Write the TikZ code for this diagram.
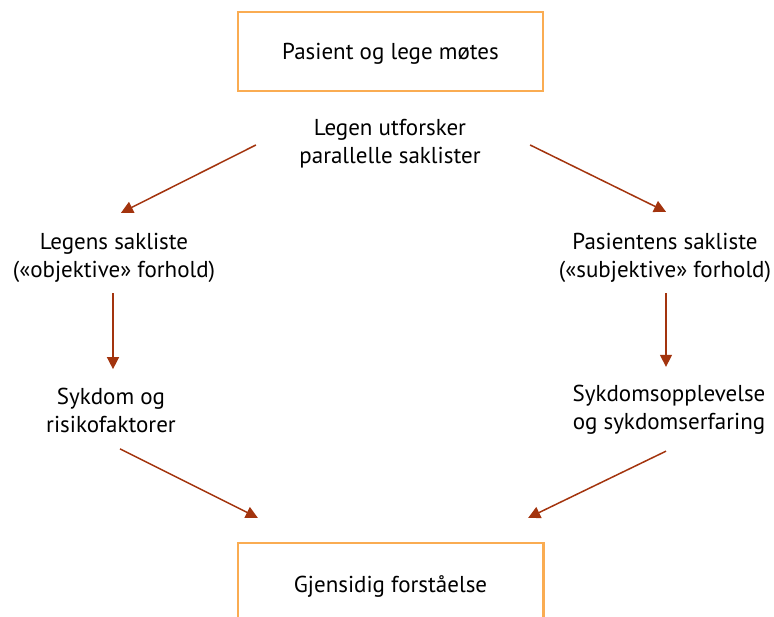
\documentclass[tikz,border=0pt]{standalone}
\usepackage{fontspec}
\setmainfont{PT Sans}
\definecolor{frameorange}{RGB}{250, 172, 82}
\definecolor{arrowred}{RGB}{163, 52, 14}
\usetikzlibrary{arrows.meta, positioning}

\begin{document}
\begin{tikzpicture}[x=1pt, y=-1pt,
    txt/.style={align=center, font=\fontsize{23}{28}\selectfont},
    frame/.style={draw=frameorange, line width=2.6pt},
    arr/.style={draw=arrowred, line width=1.5pt, -{Triangle[length=12pt, width=12pt]}}]
  \useasboundingbox (0,0) rectangle (774,617);

  % --- Top: the meeting ---
  \node[txt, frame, minimum width=305pt, minimum height=79pt, text height=22pt, text depth=5pt] (meet) at (390.5, 51.5) {Pasient og lege møtes};
  \node[txt] (explore) at (390, 144) {Legen utforsker\\parallelle saklister};

  % --- Left: the doctor's list ---
  \node[txt] (doclist) at (114, 258) {Legens sakliste\\(«objektive» forhold)};
  \node[txt] (disease) at (111, 410) {Sykdom og\\risikofaktorer};

  % --- Right: the patient's list ---
  \node[txt] (patlist) at (665, 258) {Pasientens sakliste\\(«subjektive» forhold)};
  \node[txt] (illness) at (669, 410) {Sykdomsopplevelse\\og sykdomserfaring};

  % --- Bottom: the goal, frame open at the lower edge ---
  \node[txt, minimum width=305pt, minimum height=84pt, text height=19pt, text depth=5pt] (goal) at (390.5, 585) {Gjensidig forståelse};
  \draw[frame] (goal.south west) |- (goal.north) -| (goal.south east);

  % --- Arrows ---
  \draw[arr] ([shift={(-40pt,-1pt)}]explore.west) -- ([shift={(7pt,17pt)}]doclist.north);
  \draw[arr] ([shift={(46pt,-1pt)}]explore.east) -- ([shift={(1pt,18pt)}]patlist.north);
  \draw[arr] ([shift={(-1pt,-7pt)}]doclist.south) -- ([shift={(2pt,15pt)}]disease.north);
  \draw[arr] ([shift={(1pt,-7pt)}]patlist.south) -- ([shift={(-3pt,15pt)}]illness.north);
  \draw[arr] ([shift={(9pt,-13pt)}]disease.south) -- ([shift={(20pt,25pt)}]goal.north west);
  \draw[arr] ([shift={(-3pt,-13pt)}]illness.south) -- ([shift={(-15pt,25pt)}]goal.north east);
\end{tikzpicture}
\end{document}
